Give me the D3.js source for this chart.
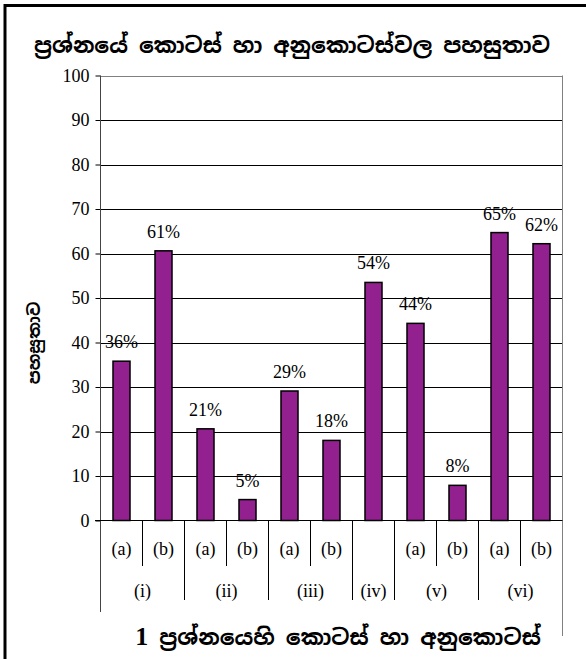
<!DOCTYPE html>
<html><head><meta charset="utf-8">
<script src="https://cdn.jsdelivr.net/npm/d3@7"></script>
<style>body{margin:0;background:#fff}svg{display:block}</style>
</head><body>
<svg id="c" width="586" height="659"></svg>
<script>
const title = "ප්‍රශ්නයේ කොටස් හා අනුකොටස්වල පහසුතාව";
const yTitle = "පහසුතාව";
const xTitleNum = "1";
const xTitle = " ප්‍රශ්නයෙහි කොටස් හා අනුකොටස්";
const subLabels = ["(a)","(b)","(a)","(b)","(a)","(b)","","(a)","(b)","(a)","(b)"];
const groups = ["(i)","(ii)","(iii)","(iv)","(v)","(vi)"];
const groupSizes = [2,2,2,1,2,2];
const values = [35.8,60.6,20.6,4.7,29.1,18.0,53.5,44.3,7.9,64.7,62.2];
const valueLabels = ["36%","61%","21%","5%","29%","18%","54%","44%","8%","65%","62%"];
const yTicks = [0,10,20,30,40,50,60,70,80,90,100];

const svg = d3.select("#c");
const serif = "'Liberation Serif', 'Times New Roman', serif";
const sinh = "'Noto Sans Sinhala', 'Iskoola Pota', sans-serif";

// frame
svg.append("line").attr("x1",5).attr("x2",5).attr("y1",4).attr("y2",659).attr("stroke","#000").attr("stroke-width",3);
svg.append("line").attr("x1",4).attr("x2",586).attr("y1",5.5).attr("y2",5.5).attr("stroke","#000").attr("stroke-width",3);

const L = 100.5, R = 562.5, T = 75.5, B = 520.5;
const ids = subLabels.map((d,i)=>"c"+i);
const x = d3.scaleBand().domain(ids).range([L,R]).paddingInner(0.595).paddingOuter(0.2975);
const y = d3.scaleLinear().domain([0,100]).range([B,T]);

// gridlines
svg.append("g").selectAll("line").data(yTicks.filter(d=>d>0)).join("line")
  .attr("x1",L).attr("x2",R).attr("y1",d=>Math.round(y(d))+0.5).attr("y2",d=>Math.round(y(d))+0.5)
  .attr("stroke",(d)=>d===100?"#808080":"#000").attr("stroke-width",1);

// y axis
const ya = svg.append("g").attr("transform",`translate(${L},0)`)
  .call(d3.axisLeft(y).tickValues(yTicks).tickSize(5).tickPadding(6));
ya.select(".domain").remove();
ya.selectAll(".tick line").attr("stroke","#000");
ya.selectAll(".tick text").attr("fill","#000").style("font-family",serif).style("font-size","18px");
ya.attr("font-family",null).attr("font-size",null);
svg.append("line").attr("x1",L).attr("x2",L).attr("y1",T).attr("y2",612).attr("stroke","#444");
svg.append("line").attr("x1",R).attr("x2",R).attr("y1",T).attr("y2",636).attr("stroke","#808080");

// bars
svg.append("g").selectAll("rect").data(values).join("rect")
  .attr("x",(d,i)=>x(ids[i])).attr("width",x.bandwidth())
  .attr("y",d=>y(d)).attr("height",d=>B-y(d))
  .attr("fill","#93208f").attr("stroke","#000").attr("stroke-width",1.5);

svg.append("g").selectAll("text").data(valueLabels).join("text")
  .attr("x",(d,i)=>x(ids[i])+x.bandwidth()/2).attr("y",(d,i)=>y(values[i])-13)
  .attr("text-anchor","middle").style("font-family",serif).style("font-size","18px").text(d=>d);

// x axis line
svg.append("line").attr("x1",95).attr("x2",R).attr("y1",B).attr("y2",B).attr("stroke","#000");

// category boundaries
const edge = i => L + (R-L)*i/ids.length;
let starts=[0]; groupSizes.forEach((s,i)=>starts.push(starts[i]+s));
for(let i=1;i<ids.length;i++){
  const isGroup = starts.includes(i);
  svg.append("line").attr("x1",edge(i)).attr("x2",edge(i)).attr("y1",B).attr("y2",isGroup?600:566).attr("stroke","#000");
}
svg.append("g").selectAll("text").data(subLabels).join("text")
  .attr("x",(d,i)=>x(ids[i])+x.bandwidth()/2).attr("y",555)
  .attr("text-anchor","middle").style("font-family",serif).style("font-size","18px").text(d=>d);
svg.append("g").selectAll("text").data(groups).join("text")
  .attr("x",(d,i)=>(edge(starts[i])+edge(starts[i+1]))/2).attr("y",597)
  .attr("text-anchor","middle").style("font-family",serif).style("font-size","18px").text(d=>d);

// titles
svg.append("text").attr("x",292).attr("y",53).attr("text-anchor","middle")
  .style("font-family",sinh).style("font-size","22px").style("font-weight","bold").text(title);
svg.append("text").attr("transform","translate(40,343) rotate(-90)").attr("text-anchor","middle")
  .style("font-family",sinh).style("font-size","17px").style("font-weight","bold").text(yTitle);
const xt = svg.append("text").attr("x",338).attr("y",645).attr("text-anchor","middle").style("font-weight","bold");
xt.append("tspan").style("font-family",serif).style("font-size","26px").text(xTitleNum);
xt.append("tspan").style("font-family",sinh).style("font-size","22px").text(xTitle);
</script>
</body></html>
